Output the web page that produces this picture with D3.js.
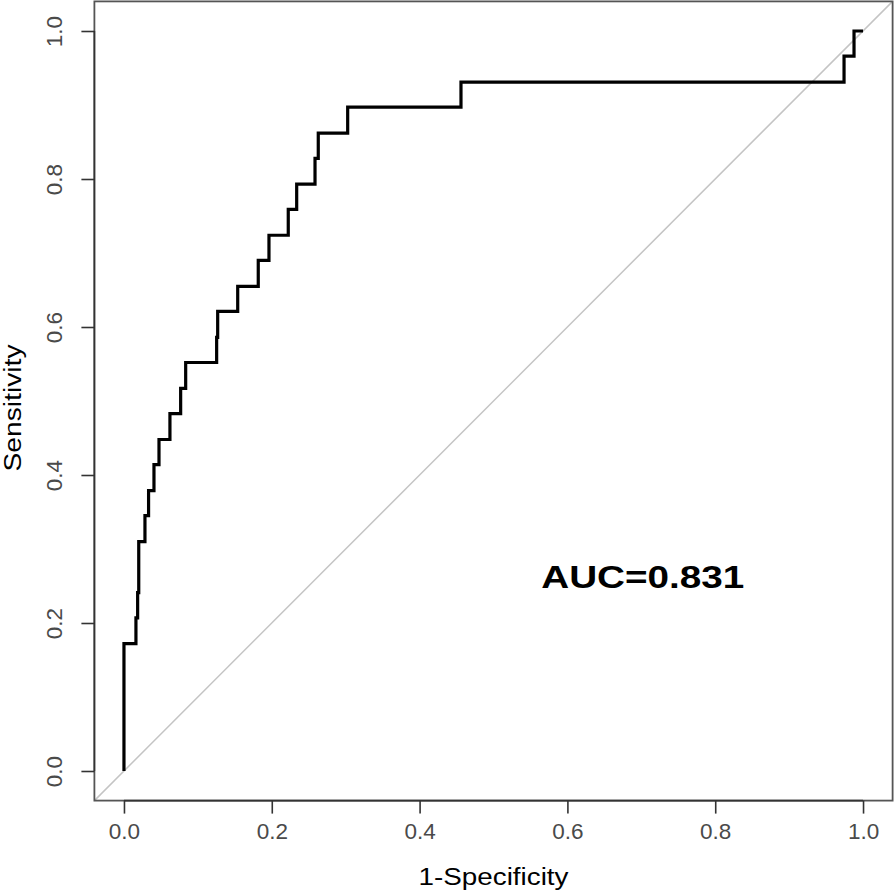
<!DOCTYPE html>
<html>
<head>
<meta charset="utf-8">
<script src="https://cdn.jsdelivr.net/npm/d3@7"></script>
<style>
  html, body { margin: 0; padding: 0; background: #fff; }
  svg { display: block; }
  text { font-family: "Liberation Sans", Arial, sans-serif; }
</style>
</head>
<body>
<svg id="chart" width="895" height="892"></svg>
<script>
// ---- data ----
const fprValues = [0, 0, 0.0162, 0.0185, 0.0200, 0.0284, 0.0333, 0.0406, 0.0474, 0.0622, 0.0767, 0.0835,
  0.1254, 0.1268, 0.1539, 0.1817, 0.1962, 0.2223, 0.2337, 0.2585, 0.2629, 0.3027, 0.456, 0.9743, 0.9878, 1.0];
const sensValues = [0, 0.172, 0.207, 0.241, 0.310, 0.345, 0.379, 0.414, 0.448, 0.483, 0.517, 0.552,
  0.586, 0.621, 0.655, 0.690, 0.724, 0.759, 0.793, 0.828, 0.862, 0.897, 0.931, 0.966, 1.0, 1.0];
const tickValues = [0, 0.2, 0.4, 0.6, 0.8, 1.0];
const tickLabels = ["0.0", "0.2", "0.4", "0.6", "0.8", "1.0"];
const xTitle = "1-Specificity";
const yTitle = "Sensitivity";
const aucLabel = "AUC=0.831";

// ---- layout ----
const svg = d3.select("#chart");
const box = { left: 94.4, right: 892.6, top: 1.4, bottom: 800.6 };
const x = d3.scaleLinear().domain([-0.04, 1.04]).range([box.left, box.right]);
const y = d3.scaleLinear().domain([-0.04, 1.04]).range([box.bottom, box.top]);

// diagonal reference
svg.append("line")
  .attr("x1", x(-0.04)).attr("y1", y(-0.04))
  .attr("x2", x(1.04)).attr("y2", y(1.04))
  .attr("stroke", "#c4c4c4").attr("stroke-width", 1.5);

// ROC step curve
const pts = fprValues.map((f, i) => [f, sensValues[i]]);
const line = d3.line().x(d => x(d[0])).y(d => y(d[1])).curve(d3.curveStepAfter);
svg.append("path")
  .attr("d", line(pts))
  .attr("fill", "none")
  .attr("stroke", "#000")
  .attr("stroke-width", 3.2)
  .attr("stroke-linejoin", "miter");

// plot box
svg.append("rect")
  .attr("x", box.left).attr("y", box.top)
  .attr("width", box.right - box.left).attr("height", box.bottom - box.top)
  .attr("fill", "none").attr("stroke", "#555").attr("stroke-width", 1.8);

// axes
const xAxis = d3.axisBottom(x).tickValues(tickValues)
  .tickFormat((d, i) => tickLabels[i]).tickSize(13).tickPadding(9);
const gx = svg.append("g").attr("transform", `translate(0,${box.bottom})`).call(xAxis);
gx.select(".domain").attr("stroke", "#333").attr("stroke-width", 1.6)
  .attr("d", `M${x(0)},0H${x(1)}`);
gx.selectAll(".tick line").attr("stroke", "#333").attr("stroke-width", 1.6);
gx.selectAll(".tick text").attr("font-size", 22.5).attr("fill", "#4a4a4a")
  .attr("font-family", "Liberation Sans, Arial, sans-serif");

const yAxis = d3.axisLeft(y).tickValues(tickValues)
  .tickFormat((d, i) => tickLabels[i]).tickSize(13).tickPadding(8);
const gy = svg.append("g").attr("transform", `translate(${box.left},0)`).call(yAxis);
gy.select(".domain").attr("stroke", "#333").attr("stroke-width", 1.6)
  .attr("d", `M0,${y(0)}V${y(1)}`);
gy.selectAll(".tick line").attr("stroke", "#333").attr("stroke-width", 1.6);
gy.selectAll(".tick text")
  .attr("font-size", 22.5).attr("fill", "#4a4a4a")
  .attr("font-family", "Liberation Sans, Arial, sans-serif")
  .attr("x", null).attr("dy", null)
  .attr("text-anchor", "middle")
  .attr("transform", "translate(-32,0) rotate(-90)");

// axis titles
svg.append("text")
  .attr("x", (box.left + box.right) / 2).attr("y", 885)
  .attr("text-anchor", "middle")
  .attr("font-size", 23.5).attr("fill", "#000")
  .attr("textLength", 150).attr("lengthAdjust", "spacingAndGlyphs")
  .text(xTitle);
svg.append("text")
  .attr("transform", `translate(20.5,${408}) rotate(-90)`)
  .attr("text-anchor", "middle")
  .attr("font-size", 23).attr("fill", "#000")
  .attr("textLength", 127).attr("lengthAdjust", "spacingAndGlyphs")
  .text(yTitle);

// AUC annotation
svg.append("text")
  .attr("x", x(0.702)).attr("y", 588)
  .attr("text-anchor", "middle")
  .attr("font-size", 31).attr("font-weight", "bold").attr("fill", "#000")
  .attr("textLength", 203).attr("lengthAdjust", "spacingAndGlyphs")
  .text(aucLabel);
</script>
</body>
</html>
